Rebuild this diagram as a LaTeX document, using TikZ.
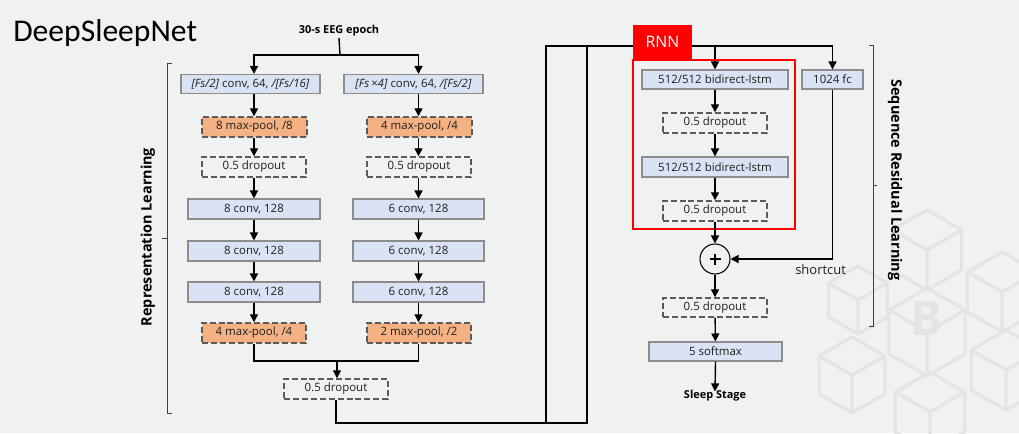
\documentclass[tikz,border=0pt]{standalone}
\usepackage{fontspec}
\setmainfont{Open Sans}
\newfontfamily\titlefont{Carlito}
\usetikzlibrary{arrows.meta}
\definecolor{bg}{HTML}{F0F1F1}
\definecolor{convfill}{HTML}{DAE3F3}
\definecolor{convline}{HTML}{8C8C8C}
\definecolor{poolfill}{HTML}{F4B183}
\definecolor{dashline}{HTML}{5A5A5A}
\definecolor{deco}{HTML}{E3E5E5}
\definecolor{rnnred}{HTML}{FF0000}
\definecolor{inktext}{HTML}{1F1F1F}
\definecolor{bracketcol}{HTML}{404040}

\begin{document}
\begin{tikzpicture}[x=0.75pt,y=-0.75pt,
  every node/.style={font=\fontsize{8.6}{10}\selectfont, inner sep=0pt, text=inktext},
  wh/.style 2 args={minimum width=#1*0.75pt, minimum height=#2*0.75pt},
  conv/.style={draw=convline, fill=convfill, line width=0.8pt},
  pool/.style={draw=dashline, fill=poolfill, line width=1.1pt, dash pattern=on 4.5pt off 2.2pt},
  drop/.style={draw=dashline, line width=1.1pt, dash pattern=on 4.5pt off 2.2pt},
  boldlabel/.style={font=\fontsize{8.2}{10}\selectfont\bfseries, text=black},
  sidelabel/.style={font=\fontsize{10.8}{13}\selectfont\bfseries, text=black},
  link/.style={draw=black, line width=1.05pt},
  arr/.style={link, -{Triangle[length=6pt,width=6pt]}},
  brace/.style={draw=bracketcol, line width=0.7pt},
  cube/.style={draw=deco, line width=2.4pt, line join=round}
]
% background
\fill[bg] (0,0) rectangle (1019,433);
\useasboundingbox (0,0) rectangle (1019,433);

% faint isometric cubes in the lower right corner
\foreach \cx/\cy/\r in {927/250/40, 927/332/44, 1002/292/40, 1006/370/40, 930/412/40, 852/375/38, 858/300/34} {
  \draw[cube, shift={(\cx,\cy)}] (30:\r) -- (90:\r) -- (150:\r) -- (210:\r) -- (270:\r) -- (330:\r) -- cycle
    (0,0) -- (90:\r) (0,0) -- (210:\r) (0,0) -- (330:\r);
}
\node[font=\fontsize{36}{36}\selectfont\bfseries, text=deco] (coin) at (927,318) {B};

% title
\node[anchor=base west, font=\titlefont\fontsize{23.7}{26}\selectfont, text=black] (title) at (13,41) {DeepSleepNet};

% input
\node[boldlabel, anchor=base] (epoch) at (339,33) {30-s EEG epoch};
\coordinate (colL) at (254,0);
\coordinate (colR) at (418.5,0);
\coordinate (split) at (340,55);

% left branch (small filters)
\node[conv, wh={139}{19}] (c64a) at (250.5,84) {\textit{[Fs/2]} conv, 64, \textit{/[Fs/16]}};
\node[pool, wh={105}{20}] (mp8) at (254.5,127) {8 max-pool, /8};
\node[drop, wh={104}{20}] (dropL) at (254,167) {0.5 dropout};
\node[conv, wh={132}{20}] (convL1) at (254,209) {8 conv, 128};
\node[conv, wh={132}{20}] (convL2) at (254,251) {8 conv, 128};
\node[conv, wh={132}{20}] (convL3) at (254,292) {8 conv, 128};
\node[pool, wh={104}{20}] (mp4L) at (254,333) {4 max-pool, /4};

% right branch (large filters)
\node[conv, wh={139}{19}] (c64b) at (413.5,84) {\textit{[Fs\,×4]} conv, 64, \textit{/[Fs/2]}};
\node[pool, wh={105}{20}] (mp4R) at (419.5,127) {4 max-pool, /4};
\node[drop, wh={104}{20}] (dropR) at (419,167) {0.5 dropout};
\node[conv, wh={131}{20}] (convR1) at (418.5,209) {6 conv, 128};
\node[conv, wh={131}{20}] (convR2) at (418.5,251) {6 conv, 128};
\node[conv, wh={131}{20}] (convR3) at (418.5,292) {6 conv, 128};
\node[pool, wh={104}{20}] (mp2) at (419,333) {2 max-pool, /2};

% merged dropout
\node[drop, wh={104}{20}] (dropM) at (336,389) {0.5 dropout};
\coordinate (mrg) at (337,361);

% input fan-out
\draw[link] (epoch.south |- 0,38) -- (split);
\draw[arr] (split) -| (colL |- c64a.north);
\draw[arr] (split) -| (colR |- c64b.north);

% left chain
\draw[arr] (colL |- c64a.south) -- (mp8.north -| colL);
\draw[arr] (mp8.south -| colL) -- (dropL.north);
\draw[arr] (dropL) -- (convL1);
\draw[arr] (convL1) -- (convL2);
\draw[arr] (convL2) -- (convL3);
\draw[arr] (convL3) -- (mp4L);

% right chain
\draw[arr] (colR |- c64b.south) -- (mp4R.north -| colR);
\draw[arr] (mp4R.south -| colR) -- (dropR.north -| colR);
\draw[arr] (dropR.south -| colR) -- (convR1);
\draw[arr] (convR1) -- (convR2);
\draw[arr] (convR2) -- (convR3);
\draw[arr] (convR3) -- (mp2.north -| colR);

% concatenation
\draw[link] (mp4L.south) |- (mrg) -| (mp2.south -| colR);
\draw[arr] (mrg) -- (dropM.north -| mrg);

% sequence residual part
\node[conv, wh={146}{19}] (lstm1) at (715,79.5) {512/512 bidirect-lstm};
\node[drop, wh={104}{20}] (drop1) at (715,123) {0.5 dropout};
\node[conv, wh={146}{20}] (lstm2) at (715,167) {512/512 bidirect-lstm};
\node[drop, wh={104}{20}] (drop2) at (715,211) {0.5 dropout};
\node[conv, wh={61}{19}] (fc) at (832.5,79.5) {1024 fc};
\node[draw=black, line width=0.8pt, circle, minimum size=30*0.75pt,
  path picture={\draw[line width=0.9pt]
    ([yshift=-5.5*0.75pt]path picture bounding box.center) -- ([yshift=5.5*0.75pt]path picture bounding box.center)
    ([xshift=-5.5*0.75pt]path picture bounding box.center) -- ([xshift=5.5*0.75pt]path picture bounding box.center);}]
  (plus) at (715,259) {};
\node[drop, wh={104}{19}] (drop3) at (715,307.5) {0.5 dropout};
\node[conv, wh={133}{19}] (softmax) at (715.5,351.5) {5 softmax};
\node[boldlabel, anchor=base] (sleep) at (715,398) {Sleep Stage};

% routing from the CNN output to the sequence part
\coordinate (b0) at (546,423);
\coordinate (t0) at (546,46);
\coordinate (b1) at (587,423);
\coordinate (t1) at (587,46);
\draw[link] (b0) -- (t0) -- (t1);
\draw[arr] (dropM.south) |- (b1) -- (t1) -| (fc.north);
\draw[arr] (t1 -| lstm1.north) -- (lstm1.north);

% RNN block frame and tag
\node[draw=rnnred, line width=1.1pt, wh={162}{169}] (rnnframe) at (714,144.5) {};
\node[fill=rnnred, wh={59}{34}, font=\fontsize{11.9}{14}\selectfont, text=white] (rnntag) at (662.5,42) {RNN};

% RNN chain
\draw[arr] (lstm1) -- (drop1);
\draw[arr] (drop1) -- (lstm2);
\draw[arr] (lstm2) -- (drop2);
\draw[arr] (drop2) -- (plus);
\draw[arr] (fc.south) |- (plus.east);
\node[anchor=base west, font=\fontsize{9.75}{12}\selectfont, text=inktext] (shortcut) at (795,274) {shortcut};
\draw[arr] (plus) -- (drop3);
\draw[arr] (drop3) -- (softmax);
\draw[arr] (softmax.south) -- ([yshift=-2*0.75pt]sleep.north);

% section brackets
\draw[brace] (172,63) -- (167,63) -- (167,413) -- (172,413) (167,238) -- (162,238);
\node[sidelabel, rotate=90] (replabel) at (148,237) {Representation Learning};
\draw[brace] (869,45) -- (873,45) -- (873,326) -- (869,326) (873,185) -- (877,185);
\node[sidelabel, rotate=-90] (seqlabel) at (895,180) {Sequence Residual Learning};
\end{tikzpicture}
\end{document}
